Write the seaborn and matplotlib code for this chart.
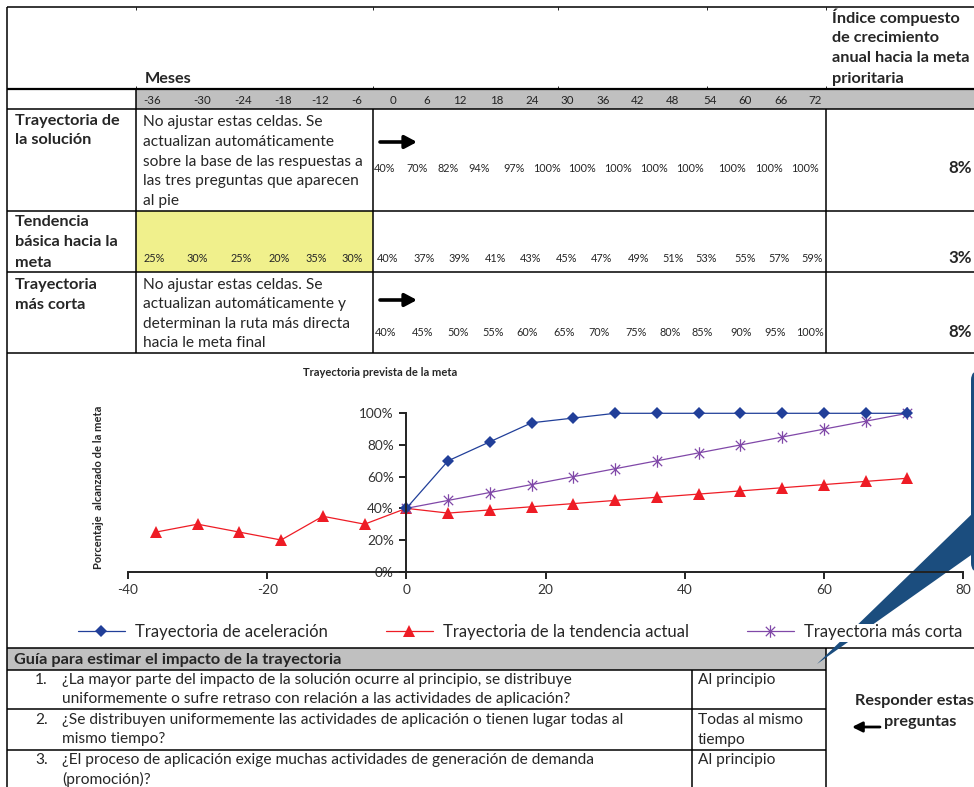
import numpy as np
import pandas as pd
import seaborn as sns
import matplotlib.pyplot as plt
from matplotlib.patches import Rectangle, Polygon, FancyBboxPatch
from matplotlib.path import Path
from matplotlib.ticker import PercentFormatter

sns.set_theme(style='white')
plt.rcParams['font.family'] = ['Lato', 'DejaVu Sans']
plt.rcParams['axes.unicode_minus'] = False

# datos de la hoja
meses_previos = [-36, -30, -24, -18, -12, -6]
meses = [0, 6, 12, 18, 24, 30, 36, 42, 48, 54, 60, 66, 72]
solucion = [40, 70, 82, 94, 97, 100, 100, 100, 100, 100, 100, 100, 100]
tendencia_previa = [25, 30, 25, 20, 35, 30]
tendencia = [40, 37, 39, 41, 43, 45, 47, 49, 51, 53, 55, 57, 59]
mas_corta = [40, 45, 50, 55, 60, 65, 70, 75, 80, 85, 90, 95, 100]
indices = ['8%', '3%', '8%']

filas = [['Trayectoria de', 'la solución'],
         ['Tendencia', 'básica hacia la', 'meta'],
         ['Trayectoria', 'más corta']]
nota_solucion = ['No ajustar estas celdas. Se', 'actualizan automáticamente',
                 'sobre la base de las respuestas a', 'las tres preguntas que aparecen', 'al pie']
nota_corta = ['No ajustar estas celdas. Se', 'actualizan automáticamente y',
              'determinan la ruta más directa', 'hacia le meta final']
titulo_indice = ['Índice compuesto', 'de crecimiento', 'anual hacia la meta', 'prioritaria']
preguntas = [['¿La mayor parte del impacto de la solución ocurre al principio, se distribuye',
              'uniformemente o sufre retraso con relación a las actividades de aplicación?'],
             ['¿Se distribuyen uniformemente las actividades de aplicación o tienen lugar todas al',
              'mismo tiempo?'],
             ['¿El proceso de aplicación exige muchas actividades de generación de demanda',
              '(promoción)?']]
respuestas = [['Al principio'], ['Todas al mismo', 'tiempo'], ['Al principio']]
series = ['Trayectoria de aceleración', 'Trayectoria de la tendencia actual', 'Trayectoria más corta']

# posiciones (pixeles) de las columnas de la hoja
x_cab = [152, 202, 243, 283, 320, 357, 393, 427, 460, 497, 532, 567, 603, 638, 673, 710, 745, 781, 815]
x_f1 = [385, 417, 448, 479, 514, 547, 582, 618, 654, 690, 732, 769, 805]
x_f2_prev = [154, 197, 241, 279, 316, 352]
x_f2 = [388, 424, 459, 496, 531, 567, 602, 639, 673, 706, 745, 779, 812]
x_f3 = [386, 423, 458, 493, 527, 564, 599, 636, 670, 702, 741, 775, 810]

W, H = 974, 787
fig = plt.figure(figsize=(W / 100, H / 100), dpi=100)
ax0 = fig.add_axes([0, 0, 1, 1], zorder=0)
ax0.set_xlim(0, W)
ax0.set_ylim(H, 0)
ax0.axis('off')

FS = 11.2
FSB = 11.7
VS = 7.8


def lineas(x, y0, paso, textos, **kw):
    for i, t in enumerate(textos):
        ax0.text(x, y0 + i * paso, t, va='center', **kw)


def hline(y, x1, x2, lw=1.1):
    ax0.plot([x1, x2], [y, y], color='black', lw=lw, solid_capstyle='butt')


def vline(x, y1, y2, lw=1.1):
    ax0.plot([x, x], [y1, y2], color='black', lw=lw, solid_capstyle='butt')


# ---- tabla superior ----
ax0.add_patch(Rectangle((136, 89), W - 136, 20, color='#c0c0c0', lw=0))
ax0.add_patch(Rectangle((136, 211), 373 - 136, 61, color='#f0f08c', lw=0))
hline(7, 7, W)
hline(89, 7, W, lw=1.6)
hline(109, 7, W)
hline(211, 7, W)
hline(272, 7, W)
hline(353, 7, W)
vline(7, 7, H)
vline(136, 89, 353)
vline(373, 109, 353)
vline(826, 109, 353)
for xt in [136, 373, 558, 707, 826]:
    vline(xt, 7, 10, lw=0.6)
    vline(xt, 86, 89, lw=0.6)

ax0.text(145, 79, 'Meses', fontsize=FSB, fontweight='bold', va='center')
lineas(832, 17, 20.7, titulo_indice, fontsize=FSB, fontweight='bold')

for m, x in zip(meses_previos + meses, x_cab):
    ax0.text(x, 100, str(m), fontsize=8.3, ha='center', va='center', color='#222222')

lineas(15, 121, 19.5, filas[0], fontsize=FSB, fontweight='bold')
lineas(15, 222, 20.5, filas[1], fontsize=FSB, fontweight='bold')
lineas(15, 285, 20, filas[2], fontsize=FSB, fontweight='bold')
lineas(143, 122, 19.8, nota_solucion, fontsize=FS)
lineas(143, 285, 19.3, nota_corta, fontsize=FS)

for yy in [142, 300]:
    ax0.annotate('', xy=(417, yy), xytext=(380, yy),
                 arrowprops=dict(arrowstyle='-|>,head_length=0.6,head_width=0.32',
                                 lw=2.6, color='black', shrinkA=0, shrinkB=0))

for v, x in zip(solucion, x_f1):
    ax0.text(x, 168, f'{v}%', fontsize=VS, ha='center', va='center')
for v, x in zip(tendencia_previa, x_f2_prev):
    ax0.text(x, 258, f'{v}%', fontsize=VS, ha='center', va='center')
for v, x in zip(tendencia, x_f2):
    ax0.text(x, 258, f'{v}%', fontsize=VS, ha='center', va='center')
for v, x in zip(mas_corta, x_f3):
    ax0.text(x, 332, f'{v}%', fontsize=VS, ha='center', va='center')
for t, yy in zip(indices, [168, 258, 332]):
    ax0.text(972, yy, t, fontsize=FSB + 0.5, fontweight='bold', ha='right', va='center')

# ---- bloque del gráfico ----
ax0.text(380, 372, 'Trayectoria prevista de la meta', fontsize=8, fontweight='bold',
         ha='center', va='center')
ax0.text(98, 487, 'Porcentaje  alcanzado de la meta', fontsize=8, fontweight='bold',
         rotation=90, ha='center', va='center')

azul = '#1b4d7e'
ax0.add_patch(FancyBboxPatch((971, 370), 40, 203, boxstyle='round,pad=0,rounding_size=10',
                             color=azul, lw=0, zorder=3))
ax0.add_patch(Polygon([(974, 512), (974, 553), (817, 664)], closed=True, color=azul, lw=0, zorder=3))
ax0.add_patch(Rectangle((790, 624), W - 790, 18, color='white', lw=0, zorder=4))

# ---- tabla inferior ----
ax0.add_patch(Rectangle((7, 648), 826 - 7, 22, color='#c0c0c0', lw=0, zorder=1))
hline(648, 7, W)
hline(670, 7, 826)
hline(709, 7, 826)
hline(750, 7, 826)
vline(692, 670, H)
vline(826, 648, H)
ax0.text(14, 660, 'Guía para estimar el impacto de la trayectoria', fontsize=FSB,
         fontweight='bold', va='center')
for i, (q, r, y0) in enumerate(zip(preguntas, respuestas, [680, 720, 760])):
    ax0.text(35, y0, f'{i + 1}.', fontsize=FS, va='center')
    lineas(62, y0, 19.5, q, fontsize=FS)
    lineas(698, y0, 20, r, fontsize=FS)
ax0.text(914, 701, 'Responder estas', fontsize=FSB, fontweight='bold', ha='center', va='center')
ax0.text(920, 722, 'preguntas', fontsize=FSB, fontweight='bold', ha='center', va='center')
ax0.annotate('', xy=(852, 727), xytext=(880, 727),
             arrowprops=dict(arrowstyle='-|>,head_length=0.5,head_width=0.25',
                             lw=2.0, color='black', shrinkA=0, shrinkB=0))

# ---- gráfico ----
y0px, y1px = 571.7, 413.3
ax = fig.add_axes([128 / W, 1 - y0px / H, (963 - 128) / W, (y0px - y1px) / H], zorder=1)
ax.patch.set_alpha(0)

asterisco = Path([(0, -1), (0, 1), (-0.75, -0.75), (0.75, 0.75), (-0.75, 0.75), (0.75, -0.75)],
                 [Path.MOVETO, Path.LINETO] * 3)

df_sol = pd.DataFrame({'mes': meses, 'valor': np.array(solucion) / 100})
df_ten = pd.DataFrame({'mes': meses_previos + meses,
                       'valor': np.array(tendencia_previa + tendencia) / 100})
df_cor = pd.DataFrame({'mes': meses, 'valor': np.array(mas_corta) / 100})

sns.lineplot(data=df_ten, x='mes', y='valor', ax=ax, color='#ee1c25', lw=0.9, marker='^',
             markersize=8.5, markeredgewidth=0, sort=False, estimator=None, label=series[1],
             clip_on=False)
sns.lineplot(data=df_cor, x='mes', y='valor', ax=ax, color='#8048a8', lw=0.9, marker=asterisco,
             markersize=9, markeredgewidth=0.9, markeredgecolor='#8048a8', sort=False,
             estimator=None, label=series[2], clip_on=False)
sns.lineplot(data=df_sol, x='mes', y='valor', ax=ax, color='#213f99', lw=0.9, marker='D',
             markersize=6.3, markeredgewidth=0, sort=False, estimator=None, label=series[0],
             clip_on=False)

ax.set_xlim(-40, 80)
ax.set_ylim(0, 1)
ax.set_xticks([-40, -20, 0, 20, 40, 60, 80])
ax.set_yticks([0, 0.2, 0.4, 0.6, 0.8, 1.0])
ax.yaxis.set_major_formatter(PercentFormatter(1.0, decimals=0))
ax.set_xlabel('')
ax.set_ylabel('')
for s in ['top', 'right']:
    ax.spines[s].set_visible(False)
ax.spines['left'].set_position(('data', 0))
ax.spines['bottom'].set_position(('data', 0))
for s in ['left', 'bottom']:
    ax.spines[s].set_color('#222222')
    ax.spines[s].set_linewidth(1.4)
ax.tick_params(axis='both', bottom=True, left=True, direction='out', length=5, width=1.4,
               color='#222222', labelsize=9.8, labelcolor='#333333', pad=4)

h, l = ax.get_legend_handles_labels()
orden = [2, 0, 1]
ax.legend([h[i] for i in orden], [l[i] for i in orden], ncol=3, loc='center left',
          bbox_to_anchor=(78 / W, 1 - 632 / H), bbox_transform=fig.transFigure,
          frameon=False, fontsize=12, handlelength=2.8, handletextpad=0.6,
          columnspacing=3.5, borderpad=0, borderaxespad=0)

fig.savefig('out.png', dpi=100)
